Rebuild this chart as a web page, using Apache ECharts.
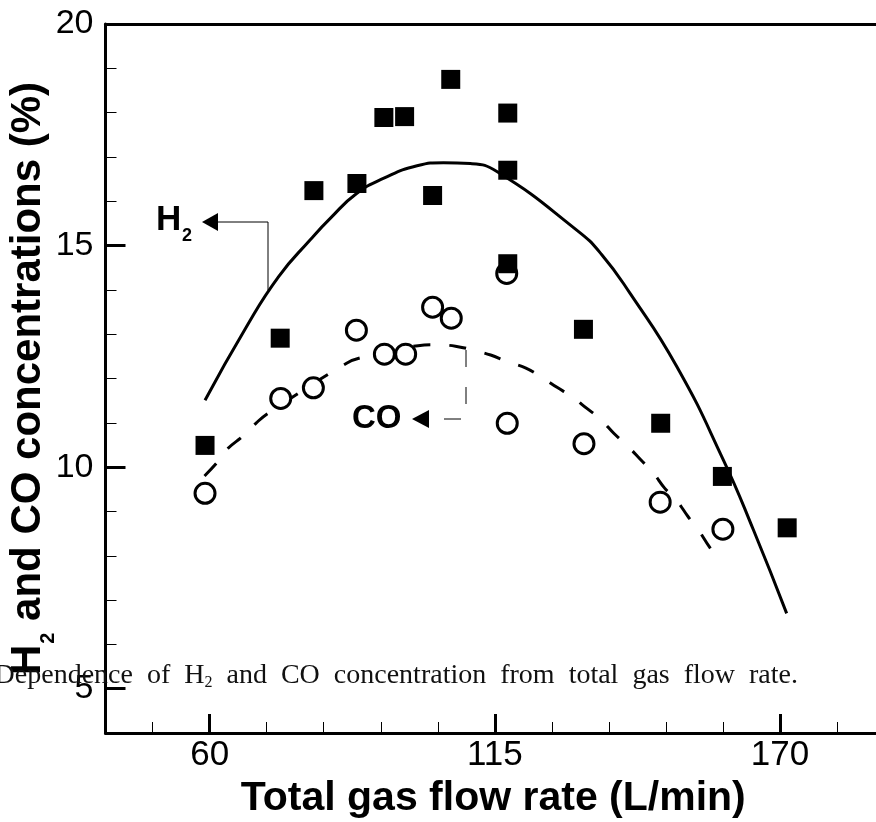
<!DOCTYPE html>
<html>
<head>
<meta charset="utf-8">
<script src="https://cdn.jsdelivr.net/npm/echarts@6.0.0/dist/echarts.min.js"></script>
<style>
html,body{margin:0;padding:0;background:#fff;}
#chart{width:876px;height:822px;}
</style>
</head>
<body>
<div id="chart"></div>
<script>
// ---- data ----
var flowH2 = [59.1, 73.6, 80.1, 88.4, 93.6, 97.6, 103.0, 106.5, 117.5, 117.5, 117.5, 132.1, 147.0, 158.9, 171.4];
var concH2 = [10.49, 12.91, 16.24, 16.40, 17.89, 17.91, 16.13, 18.75, 17.99, 16.70, 14.59, 13.11, 10.99, 9.79, 8.63];

var flowCO = [59.1, 73.7, 80.0, 88.3, 93.7, 97.8, 103.0, 106.6, 117.3, 117.4, 132.2, 146.9, 159.0];
var concCO = [9.41, 11.55, 11.79, 13.09, 12.55, 12.55, 13.61, 13.36, 14.37, 10.99, 10.53, 9.21, 8.60];

// fitted curves
var fitH2X = [59.1, 66.9, 73.3, 79.4, 83.3, 88.4, 93.6, 100.0, 105.1, 110.3, 115.4, 130.8, 135.6, 141.1, 150.1, 159.1, 164.9, 171.3];
var fitH2Y = [11.51, 13.13, 14.30, 15.13, 15.62, 16.18, 16.52, 16.80, 16.87, 16.85, 16.67, 15.35, 14.80, 13.92, 12.27, 10.16, 8.58, 6.70];

var fitCOX = [59.0, 61.4, 63.6, 66.3, 69.0, 71.3, 86.5, 89.6, 100.2, 103.7, 107.4, 110.8, 114.2, 117.4, 120.9, 123.9,
              127.0, 130.0, 132.7, 135.4, 138.0, 140.6, 143.2, 145.5, 147.8, 150.0, 152.3, 154.3, 156.4, 158.4];
var fitCOY = [9.80, 10.10, 10.43, 10.69, 11.00, 11.22, 12.35, 12.48, 12.74, 12.76, 12.73, 12.64, 12.53, 12.38, 12.24, 12.04,
              11.80, 11.58, 11.33, 11.08, 10.76, 10.48, 10.16, 9.88, 9.52, 9.26, 8.88, 8.58, 8.20, 7.90];

// axes
var xMin = 39.9, xMax = 189.5;
var yMin = 4, yMax = 20;
var xMajor = [60, 115, 170];
var xMinor = [49, 71, 82, 93, 104, 126, 137, 148, 159, 181];
var yMajor = [5, 10, 15, 20];
var yMinor = [6, 7, 8, 9, 11, 12, 13, 14, 16, 17, 18, 19];

var xTitle = 'Total gas flow rate (L/min)';
var yTitleMain = 'H', yTitleSub = '2', yTitleRest = ' and CO concentrations (%)';
var captionA = 'Dependence  of  H', captionSub = '2', captionB = '  and  CO  concentration  from  total  gas  flow  rate.';

function zip(a, b) { return a.map(function (v, i) { return [v, b[i]]; }); }

var SANS = 'Liberation Sans, Arial, sans-serif';
var SERIF = 'Liberation Serif, Times New Roman, serif';

var chart = echarts.init(document.getElementById('chart'), null, {renderer: 'canvas'});

var option = {
  animation: false,
  backgroundColor: '#fff',
  grid: {left: 105.5, right: -5, top: 24, bottom: 89, containLabel: false, outerBoundsMode: 'none'},
  xAxis: [
    {
      type: 'value', position: 'bottom', min: xMin, max: xMax,
      axisLine: {show: true, onZero: false, lineStyle: {color: '#000', width: 3}},
      axisTick: {show: true, inside: true, length: 19, customValues: xMajor, lineStyle: {color: '#000', width: 3}},
      axisLabel: {show: true, customValues: xMajor, margin: 5, color: '#000', fontSize: 35, fontFamily: SANS},
      splitLine: {show: false},
      name: xTitle, nameLocation: 'middle', nameGap: 45, nameMoveOverlap: false,
      nameTextStyle: {color: '#000', fontSize: 41, fontWeight: 'bold', fontFamily: SANS}
    },
    {
      type: 'value', position: 'bottom', min: xMin, max: xMax,
      axisLine: {show: false, onZero: false},
      axisTick: {show: true, inside: true, length: 11, customValues: xMinor, lineStyle: {color: '#000', width: 1}},
      axisLabel: {show: false},
      splitLine: {show: false}
    },
    {
      type: 'value', position: 'top', min: xMin, max: xMax,
      axisLine: {show: true, onZero: false, lineStyle: {color: '#000', width: 3}},
      axisTick: {show: false}, axisLabel: {show: false}, splitLine: {show: false}
    }
  ],
  yAxis: [
    {
      type: 'value', position: 'left', min: yMin, max: yMax,
      axisLine: {show: true, onZero: false, lineStyle: {color: '#000', width: 3}},
      axisTick: {show: true, inside: true, length: 20, customValues: yMajor, lineStyle: {color: '#000', width: 3}},
      axisLabel: {show: true, customValues: yMajor, margin: 12, color: '#000', fontSize: 34, fontFamily: SANS},
      splitLine: {show: false},
      name: '{b|' + yTitleMain + '}{s|' + yTitleSub + '}{b|' + yTitleRest + '}',
      nameLocation: 'middle', nameGap: 47, nameRotate: 90, nameMoveOverlap: false,
      nameTextStyle: {
        color: '#000', fontSize: 42, fontWeight: 'bold', fontFamily: SANS,
        rich: {
          b: {fontSize: 42, fontWeight: 'bold', fontFamily: SANS, color: '#000', lineHeight: 42, verticalAlign: 'top'},
          s: {fontSize: 20, fontWeight: 'bold', fontFamily: SANS, color: '#000', verticalAlign: 'top', padding: [31, 0, 0, 1]}
        }
      }
    },
    {
      type: 'value', position: 'left', min: yMin, max: yMax,
      axisLine: {show: false, onZero: false},
      axisTick: {show: true, inside: true, length: 11, customValues: yMinor, lineStyle: {color: '#000', width: 1}},
      axisLabel: {show: false},
      splitLine: {show: false}
    }
  ],
  series: [
    {
      name: 'H2 fit', type: 'line', xAxisIndex: 0, yAxisIndex: 0,
      data: zip(fitH2X, fitH2Y), smooth: 0.5, showSymbol: false, symbol: 'none',
      lineStyle: {color: '#000', width: 3}, z: 2
    },
    {
      name: 'CO fit', type: 'line', xAxisIndex: 0, yAxisIndex: 0,
      data: zip(fitCOX, fitCOY), smooth: 0.4, showSymbol: false, symbol: 'none',
      lineStyle: {color: '#000', width: 3, type: [17, 19]}, z: 2
    },
    {
      name: 'CO', type: 'scatter', xAxisIndex: 0, yAxisIndex: 0,
      data: zip(flowCO, concCO), symbol: 'circle', symbolSize: 20,
      itemStyle: {color: '#fff', borderColor: '#000', borderWidth: 3, opacity: 1}, z: 3
    },
    {
      name: 'H2', type: 'scatter', xAxisIndex: 0, yAxisIndex: 0,
      data: zip(flowH2, concH2), symbol: 'rect', symbolSize: 19,
      itemStyle: {color: '#000', opacity: 1}, z: 4
    }
  ],
  graphic: [
    // H2 annotation
    {type: 'text', x: 156, y: 220, z: 10, style: {text: 'H', fontSize: 35, fontWeight: 'bold', fontFamily: SANS, fill: '#000', align: 'left', verticalAlign: 'middle'}},
    {type: 'text', x: 182, y: 236, z: 10, style: {text: '2', fontSize: 18, fontWeight: 'bold', fontFamily: SANS, fill: '#000', align: 'left', verticalAlign: 'middle'}},
    {type: 'polygon', z: 10, shape: {points: [[202, 222], [218, 213], [218, 231]]}, style: {fill: '#000'}},
    {type: 'polyline', z: 10, shape: {points: [[218, 222], [268, 222], [268, 290]]}, style: {stroke: '#000', lineWidth: 1, fill: null}},
    // CO annotation
    {type: 'text', x: 352, y: 419, z: 10, style: {text: 'CO', fontSize: 33, fontWeight: 'bold', fontFamily: SANS, fill: '#000', align: 'left', verticalAlign: 'middle'}},
    {type: 'polygon', z: 10, shape: {points: [[412, 419], [429, 410], [429, 428]]}, style: {fill: '#000'}},
    {type: 'polyline', z: 10, shape: {points: [[466, 350], [466, 419], [429, 419]]}, style: {stroke: '#000', lineWidth: 1, fill: null, lineDash: [17, 20]}},
    // caption
    {
      type: 'text', x: 798, y: 662, z: 20,
      style: {
        text: '{n|' + captionA + '}{s|' + captionSub + '}{n|' + captionB + '}',
        align: 'right', verticalAlign: 'top', fill: '#111',
        rich: {
          n: {fontSize: 28, fontFamily: SERIF, fill: '#111', color: '#111', lineHeight: 28, verticalAlign: 'top'},
          s: {fontSize: 16, fontFamily: SERIF, fill: '#111', color: '#111', verticalAlign: 'top', padding: [13, 0, 0, 0]}
        }
      }
    }
  ]
};
chart.setOption(option);
</script>
</body>
</html>
